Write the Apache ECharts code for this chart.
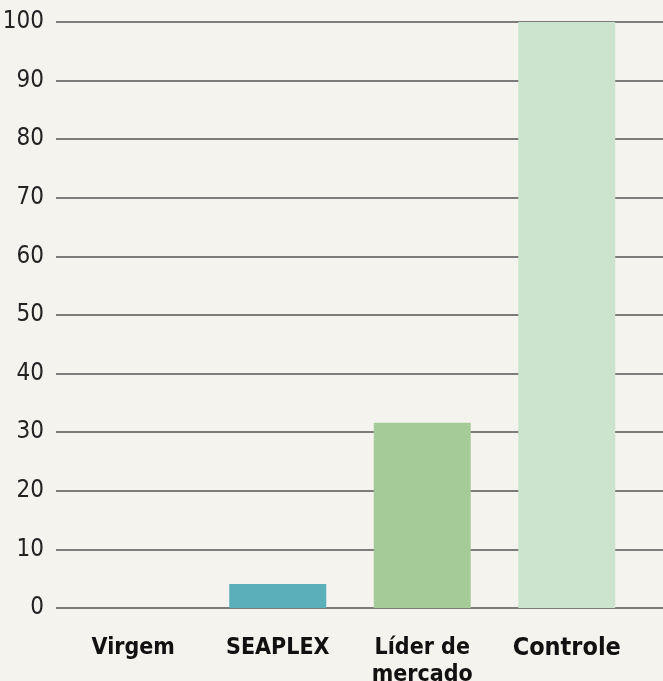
<!DOCTYPE html>
<html>
<head>
<meta charset="utf-8">
<script src="https://cdn.jsdelivr.net/npm/echarts@6/dist/echarts.min.js"></script>
<style>
  html, body { margin: 0; padding: 0; background: #f5f3ee; }
  #chart { width: 663px; height: 681px; }
</style>
</head>
<body>
<div id="chart"></div>
<script>
// 数据
const categories = ['Virgem', 'SEAPLEX', 'Líder de\nmercado', 'Controle'];
const values = [0, 4.1, 31.6, 100];
const barColors = ['#5aafba', '#5aafba', '#a5cc98', '#cce4cd'];
const yTicks = { min: 0, max: 100, interval: 10 };

const FONT = '"DejaVu Sans Condensed", "Liberation Sans Narrow", "Roboto", sans-serif';

const chart = echarts.init(document.getElementById('chart'));

const option = {
    backgroundColor: '#f5f3ee',
    animation: false,
    grid: [
        // 网格线 + y 轴标签
        { left: 56, right: 0, top: 22, bottom: 73, outerBoundsMode: 'none', containLabel: false },
        // 柱子
        { left: 61, right: 24, top: 22, bottom: 73, outerBoundsMode: 'none', containLabel: false }
    ],
    xAxis: [
        { gridIndex: 0, type: 'value', min: 0, max: 1, show: false },
        {
            gridIndex: 1,
            type: 'category',
            data: categories,
            axisLine: { show: false },
            axisTick: { show: false },
            axisLabel: {
                interval: 0,
                margin: 27,
                color: '#111',
                fontFamily: FONT,
                fontSize: 23,
                fontWeight: 'bold',
                lineHeight: 27,
                verticalAlign: 'top',
                formatter: (v) => v === 'Controle' ? '{big|' + v + '}' : v,
                rich: {
                    big: { fontFamily: FONT, fontSize: 25, fontWeight: 'bold', color: '#111', lineHeight: 27 }
                }
            }
        }
    ],
    yAxis: [
        {
            gridIndex: 0,
            type: 'value',
            min: yTicks.min,
            max: yTicks.max,
            interval: yTicks.interval,
            axisLine: { show: false },
            axisTick: { show: false },
            axisLabel: {
                margin: 12,
                color: '#222',
                fontFamily: FONT,
                fontSize: 24
            },
            splitLine: { lineStyle: { color: '#555', width: 1.5 } }
        },
        {
            gridIndex: 1,
            type: 'value',
            min: yTicks.min,
            max: yTicks.max,
            show: false
        }
    ],
    series: [
        {
            type: 'bar',
            xAxisIndex: 1,
            yAxisIndex: 1,
            barWidth: 97,
            data: values.map((v, i) => ({ value: v, itemStyle: { color: barColors[i] } }))
        }
    ]
};

chart.setOption(option);
window.addEventListener('resize', () => chart.resize());
</script>
</body>
</html>
